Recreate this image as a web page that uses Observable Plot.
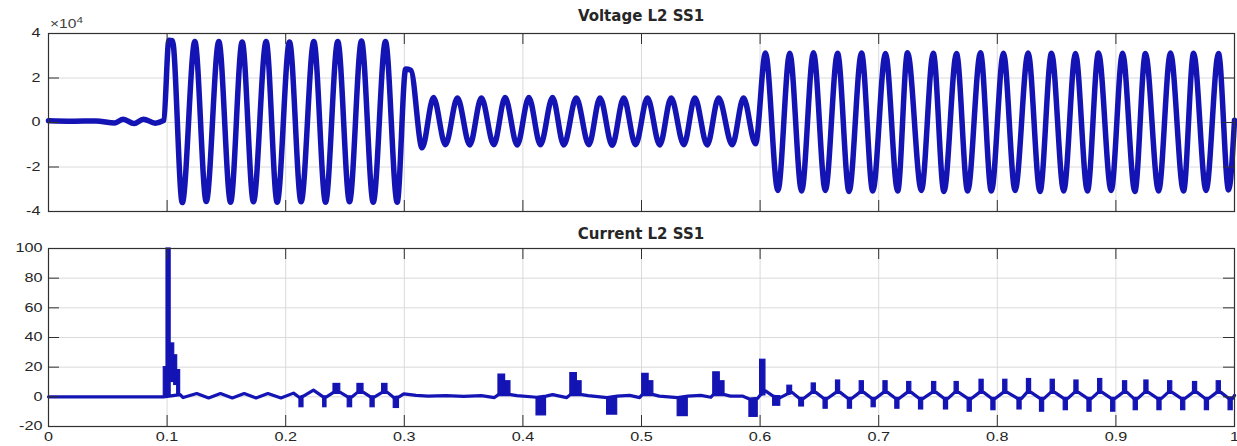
<!DOCTYPE html>
<html><head><meta charset="utf-8">
<script src="https://cdn.jsdelivr.net/npm/d3@7"></script>
<script src="https://cdn.jsdelivr.net/npm/@observablehq/plot@0.6"></script>
<style>
body{margin:0;background:#fff;width:1237px;height:446px;overflow:hidden;position:relative;font-family:"Liberation Sans",Arial,sans-serif;}
.title{position:absolute;left:48px;width:1186px;text-align:center;font-family:"DejaVu Sans",sans-serif;font-weight:bold;font-size:15px;line-height:15px;color:#262626;white-space:nowrap;}
#top{position:absolute;left:0;top:0;}
#bot{position:absolute;left:0;top:222px;}
#exp{position:absolute;left:50px;top:18px;font-size:12px;line-height:12px;color:#404040;transform:scaleX(1.3);transform-origin:left top;}
#exp span{position:relative;top:-5px;font-size:9px;}
</style></head>
<body>
<div id="top"></div><div id="bot"></div>
<div class="title" style="top:9px">Voltage L2 SS1</div>
<div class="title" style="top:227px">Current L2 SS1</div>
<div id="exp">×10<span>4</span></div>
<script>
// ---------- data ----------
const xTicks = [0, 0.1, 0.2, 0.3, 0.4, 0.5, 0.6, 0.7, 0.8, 0.9, 1];
const voltTicks = [-4, -2, 0, 2, 4];
const currTicks = [-20, 0, 20, 40, 60, 80, 100];

// Voltage L2 SS1 (units of 1e4), extrema
const voltT = [0, 0.02, 0.04, 0.056, 0.063, 0.072, 0.08, 0.09, 0.0965,
  0.0972, 0.1015, 0.1045, 0.1128, 0.1234, 0.133, 0.1436, 0.1535, 0.1633, 0.1728, 0.1835, 0.1928,
  0.2032, 0.213, 0.2237, 0.2336, 0.2439, 0.2538, 0.2639, 0.2738, 0.2841, 0.294,
  0.3012, 0.3055, 0.315, 0.3246, 0.3347, 0.3448, 0.3552, 0.365, 0.3755, 0.385, 0.3952, 0.405, 0.4148, 0.425,
  0.4345, 0.445, 0.4556, 0.465, 0.4753, 0.485, 0.495, 0.505, 0.5154, 0.525, 0.5357, 0.545, 0.5554, 0.565,
  0.5765, 0.586, 0.5961,
  0.6045, 0.615, 0.625, 0.635, 0.645, 0.655, 0.6653, 0.675, 0.6855, 0.695, 0.7057, 0.716, 0.7243, 0.736,
  0.746, 0.755, 0.7656, 0.775, 0.7858, 0.795, 0.8052, 0.815, 0.826, 0.836, 0.8457, 0.856, 0.8659, 0.876,
  0.8853, 0.896, 0.9056, 0.916, 0.9249, 0.936, 0.946, 0.957, 0.9655, 0.976, 0.9865, 0.995, 1.0];
const voltV = [0.08, 0.06, 0.07, -0.02, 0.15, -0.05, 0.15, -0.03, 0.08,
  0.1, 3.7, 3.68, -3.6, 3.64, -3.55, 3.64, -3.58, 3.62, -3.56, 3.64, -3.58,
  3.62, -3.56, 3.64, -3.58, 3.64, -3.56, 3.66, -3.58, 3.64, -3.58,
  2.4, 2.35, -1.14, 1.12, -1.0, 1.1, -1.01, 1.1, -1.0, 1.12, -1.01, 1.12, -1.0, 1.12,
  -1.01, 1.1, -1.0, 1.1, -1.02, 1.1, -1.0, 1.1, -1.01, 1.1, -1.0, 1.1, -1.01, 1.1,
  -1.0, 1.1, -0.96,
  3.12, -3.06, 3.11, -3.08, 3.13, -3.06, 3.11, -3.1, 3.12, -3.08, 3.1, -3.08, 3.13, -3.06,
  3.11, -3.1, 3.1, -3.08, 3.13, -3.08, 3.11, -3.06, 3.12, -3.1, 3.11, -3.08, 3.1, -3.08,
  3.12, -3.06, 3.11, -3.1, 3.1, -3.08, 3.12, -3.08, 3.11, -3.06, 3.1, -3.03, 0.1];

// Current L2 SS1: slow baseline
const curT = [0, 0.097, 0.111, 0.1135, 0.125, 0.135, 0.145, 0.155, 0.165, 0.175, 0.185, 0.196,
  0.2066, 0.2116, 0.215, 0.2234, 0.2316, 0.2344, 0.2403, 0.246, 0.2523, 0.256, 0.2605, 0.2656,
  0.2715, 0.275, 0.2813, 0.2858, 0.2911, 0.2955, 0.2996, 0.31, 0.32, 0.335, 0.35, 0.365, 0.376,
  0.3794, 0.3895, 0.395, 0.4115, 0.4195, 0.425, 0.437, 0.440, 0.4495, 0.455, 0.471, 0.4795, 0.49,
  0.4985, 0.5006, 0.510, 0.515, 0.5305, 0.539, 0.55, 0.5585, 0.5605, 0.570, 0.575, 0.585, 0.591,
  0.598, 0.600, 0.6045, 0.611, 0.617, 0.623, 0.627, 0.633, 0.637,
  0.6435, 0.647, 0.6535, 0.657, 0.664, 0.6675, 0.674, 0.6775, 0.684, 0.6875, 0.694, 0.6975,
  0.704, 0.7075, 0.714, 0.7175, 0.724, 0.7275, 0.734, 0.7375, 0.745, 0.7485, 0.755, 0.7585,
  0.764, 0.7675, 0.775, 0.7785, 0.785, 0.7885, 0.795, 0.7985, 0.805, 0.8085, 0.817, 0.8205,
  0.825, 0.8285, 0.836, 0.8395, 0.845, 0.8485, 0.856, 0.8595, 0.865, 0.8685, 0.876, 0.8795,
  0.885, 0.8885, 0.896, 0.8995, 0.906, 0.9095, 0.915, 0.9185, 0.924, 0.9275, 0.935, 0.9385,
  0.944, 0.9475, 0.955, 0.9585, 0.965, 0.9685, 0.975, 0.9785, 0.985, 0.9885, 0.995, 0.9985, 1.0];
const curV = [0, 0, 1.5, -0.5, 2.2, -0.8, 2.2, -0.8, 2.2, -0.8, 2.2, -0.8,
  2.5, -0.5, 0.5, 4.5, 0, 0, 3, 3, 0, 0, 3, 3,
  0, 0, 3, 3, -0.5, 0, 2, 1, 0.5, 0.8, 0.3, 0.8, -0.5,
  1.5, 1.5, 0.8, -0.3, 0.5, 1.5, -0.5, 1.5, 1.5, 0.8, -0.5, 0.5, 1,
  -0.5, 1.5, 1.5, 0.5, -0.5, 0.5, 1, -0.3, 1.5, 1.5, 0.5, 0.5, -1.5,
  -1, 1, 4, 0.5, -0.5, 2, 3, -1, -1,
  3, 3, -1, -1, 3, 3, -1, -1, 3, 3, -1, -1,
  3, 3, -1, -1, 3, 3, -1, -1, 3, 3, -1, -1,
  3, 3, -1, -1, 3, 3, -1, -1, 3, 3, -1, -1,
  3, 3, -1, -1, 3, 3, -1, -1, 3, 3, -1, -1,
  3, 3, -1, -1, 3, 3, -1, -1, 3, 3, -1, -1,
  3, 3, -1, -1, 3, 3, -1, -1, 3, 3, -1, -1, 1];

// Current L2 SS1: pulses (start time, end time, base value, tip value)
const pulseStart = [0.0972, 0.0995, 0.103, 0.106, 0.1085,
  0.2116, 0.2316, 0.2403, 0.2523, 0.2605, 0.2715, 0.2813, 0.2911,
  0.3794, 0.385, 0.4115, 0.440, 0.4455, 0.471, 0.5006, 0.506, 0.5305, 0.5605, 0.566, 0.591, 0.600, 0.611, 0.623, 0.633,
  0.6435, 0.6535, 0.664, 0.674, 0.684, 0.694, 0.704, 0.714, 0.724, 0.734, 0.745, 0.755, 0.764, 0.775, 0.785, 0.795,
  0.805, 0.817, 0.825, 0.836, 0.845, 0.856, 0.865, 0.876, 0.885, 0.896, 0.906, 0.915, 0.924, 0.935, 0.944, 0.955,
  0.965, 0.975, 0.985, 0.995];
const pulseEnd = [0.1, 0.103, 0.106, 0.1085, 0.111,
  0.215, 0.2344, 0.246, 0.256, 0.2656, 0.275, 0.2858, 0.2955,
  0.385, 0.3895, 0.4195, 0.4455, 0.4495, 0.4795, 0.506, 0.510, 0.539, 0.566, 0.570, 0.598, 0.6045, 0.617, 0.627, 0.637,
  0.647, 0.657, 0.6675, 0.6775, 0.6875, 0.6975, 0.7075, 0.7175, 0.7275, 0.7375, 0.7485, 0.7585, 0.7675, 0.7785, 0.7885, 0.7985,
  0.8085, 0.8205, 0.8285, 0.8395, 0.8485, 0.8595, 0.8685, 0.8795, 0.8885, 0.8995, 0.9095, 0.9185, 0.9275, 0.9385, 0.9475, 0.9585,
  0.9685, 0.9785, 0.9885, 0.9985];
const pulseBase = [0, 0, 10, 8, 1,
  -0.5, 0, 3, 0, 3, 0, 3, -0.5,
  1.5, 1.5, -0.3, 1.5, 1.5, -0.5, 1.5, 1.5, -0.5, 1.5, 1.5, -1.5, 1, 0.5, 2, -1,
  3, -1, 3, -1, 3, -1, 3, -1, 3, -1, 3, -1, 3, -1, 3, -1,
  3, -1, 3, -1, 3, -1, 3, -1, 3, -1, 3, -1, 3, -1, 3, -1,
  3, -1, 3, -1];
const pulseTip = [20, 100, 36, 28, 18,
  -7, -7, 8.7, -7, 8.7, -7, 8.7, -7.5,
  15, 10.5, -12.5, 16, 10.5, -12, 15.5, 10.5, -13, 16.5, 10.5, -13.5, 25, -6, 7.5, -6.5,
  9, -8, 11, -8, 10.5, -7, 10.5, -8, 10, -8.5, 10, -8.5, 10, -10, 11.5, -9,
  11.5, -8.5, 12, -10, 11.5, -9, 11, -10, 12, -10, 10.5, -9, 11, -9, 10.5, -9,
  10, -9, 10.5, -9];

// ---------- build tables ----------
const voltage = voltT.map((t, i) => ({t, v: voltV[i]}));
const current = curT.map((t, i) => ({t, v: curV[i]}));
const pulses = pulseStart.map((s, i) => ({x1: s, x2: pulseEnd[i], y1: pulseBase[i], y2: pulseTip[i]}));

const BLUE = "#1414b4";
const AX = "#303030";
const GRID = "#dadada";
const W = 1237, ML = 48, MR = 3, PH = 178, PW = W - ML - MR;
const TICK = 11;
const LABEL_SX = 1.35;

function common(yTicks) {
  return [
    Plot.gridX(xTicks, {stroke: GRID, strokeOpacity: 1}),
    Plot.gridY(yTicks, {stroke: GRID, strokeOpacity: 1}),
  ];
}
function ticks(yTicks) {
  return [
    Plot.ruleX(xTicks, {stroke: AX, insetTop: PH - TICK}),
    Plot.ruleX(xTicks, {stroke: AX, insetBottom: PH - TICK}),
    Plot.ruleY(yTicks, {stroke: AX, insetRight: PW - TICK}),
    Plot.ruleY(yTicks, {stroke: AX, insetLeft: PW - TICK}),
    Plot.frame({stroke: AX, strokeWidth: 1.2})
  ];
}
const style = {fontFamily: '"Liberation Sans", Arial, sans-serif', fontSize: "12px", color: "#262626", background: "transparent", overflow: "visible"};

const topPlot = Plot.plot({
  width: W, height: 222, marginTop: 33, marginBottom: 11, marginLeft: ML, marginRight: MR,
  style,
  x: {domain: [0, 1], axis: null},
  y: {domain: [-4, 4], axis: null},
  marks: [
    ...common(voltTicks),
    Plot.line(voltage, {x: "t", y: "v", curve: "monotone-x", stroke: BLUE, strokeWidth: 5.5, strokeLinejoin: "round"}),
    ...ticks(voltTicks),
    Plot.axisY(voltTicks, {anchor: "left", tickSize: 0, tickPadding: 8, label: null, tickFormat: d => String(d)})
  ]
});
document.getElementById("top").appendChild(topPlot);

const botPlot = Plot.plot({
  width: W, height: 224, marginTop: 26, marginBottom: 20, marginLeft: ML, marginRight: MR,
  style,
  x: {domain: [0, 1], axis: null},
  y: {domain: [-20, 100], axis: null},
  marks: [
    ...common(currTicks),
    Plot.line(current, {x: "t", y: "v", stroke: BLUE, strokeWidth: 3.2, strokeLinejoin: "round"}),
    Plot.rect(pulses, {x1: "x1", x2: "x2", y1: "y1", y2: "y2", fill: BLUE, stroke: BLUE, strokeWidth: 1.2}),
    ...ticks(currTicks),
    Plot.axisY(currTicks, {anchor: "left", tickSize: 0, tickPadding: 6, label: null, tickFormat: d => String(d)}),
    Plot.axisX(xTicks, {anchor: "bottom", tickSize: 0, tickPadding: 6, label: null, tickFormat: d => String(d)})
  ]
});
document.getElementById("bot").appendChild(botPlot);

// widen tick label glyphs as in the reference
for (const svg of [topPlot, botPlot]) {
  svg.querySelectorAll('g[aria-label$="tick label"] text').forEach(t => {
    const tr = t.getAttribute("transform") || "";
    t.setAttribute("transform", tr + ` scale(${LABEL_SX},1)`);
  });
}
</script>
</body></html>
